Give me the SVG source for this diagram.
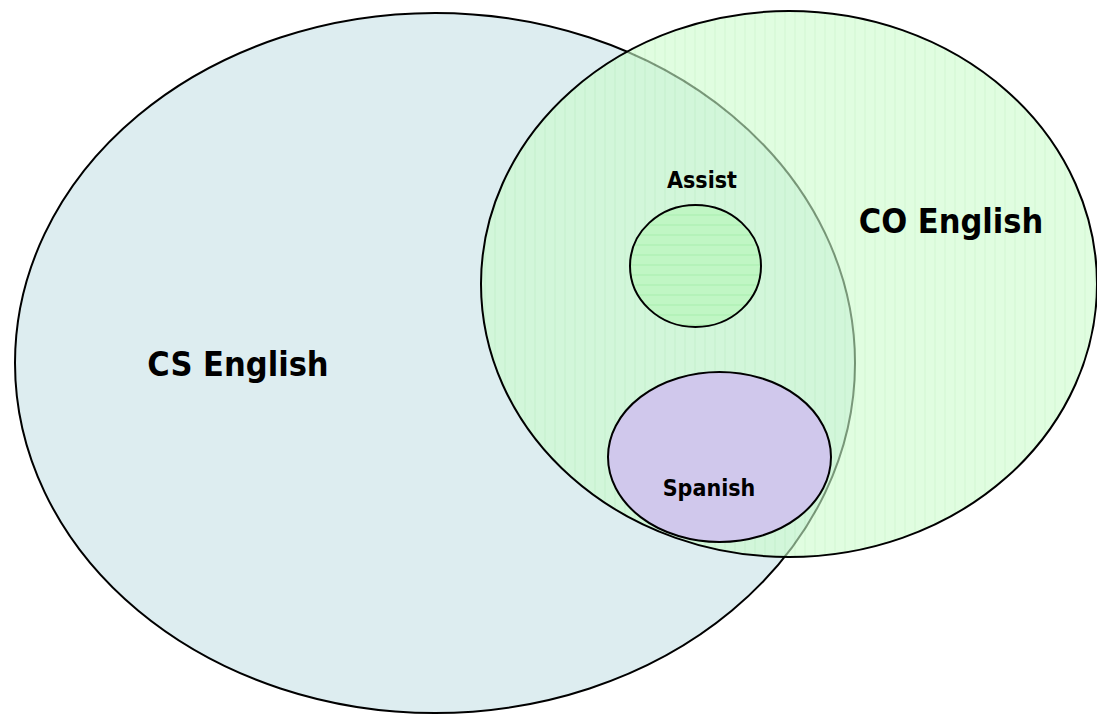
<svg xmlns="http://www.w3.org/2000/svg" width="1097" height="714" viewBox="0 0 1097 714">
  <defs>
    <!-- faint vertical hatching for the CO set -->
    <pattern id="vstripes" width="10" height="10" patternUnits="userSpaceOnUse">
      <rect width="10" height="10" fill="#cbfccb"/>
      <line x1="5" y1="0" x2="5" y2="10" stroke="#b4f2b4" stroke-width="1"/>
    </pattern>
    <!-- faint horizontal hatching for the Assist set -->
    <pattern id="hstripes" width="10" height="10" patternUnits="userSpaceOnUse">
      <rect width="10" height="10" fill="#c0f6c4"/>
      <line x1="0" y1="5" x2="10" y2="5" stroke="#a9eeae" stroke-width="1"/>
    </pattern>
  </defs>
  <style>
    .set { stroke: #000; stroke-width: 2; }
    .label { font-family: "DejaVu Sans Condensed", "DejaVu Sans", Verdana, sans-serif; font-weight: bold; fill: #000; text-anchor: middle; }
    .big { font-size: 34px; }
    .small { font-size: 23px; }
  </style>
  <rect width="1097" height="714" fill="#fff"/>

  <g id="cs-english">
    <ellipse class="set" cx="435" cy="363" rx="420" ry="350" fill="#ddedf0"/>
    <text class="label big" x="238" y="376">CS English</text>
  </g>

  <g id="co-english">
    <ellipse class="set" cx="789" cy="284" rx="308" ry="273" fill="url(#vstripes)" fill-opacity="0.6"/>
    <text class="label big" x="951" y="233">CO English</text>
  </g>

  <g id="assist">
    <ellipse class="set" cx="695.5" cy="266" rx="65.5" ry="61" fill="url(#hstripes)"/>
    <text class="label small" x="702" y="188">Assist</text>
  </g>

  <g id="spanish">
    <ellipse class="set" cx="719.5" cy="457" rx="111.5" ry="85" fill="#d0c8ec"/>
    <text class="label small" x="709" y="496">Spanish</text>
  </g>

  <g id="connectors"></g>
</svg>
